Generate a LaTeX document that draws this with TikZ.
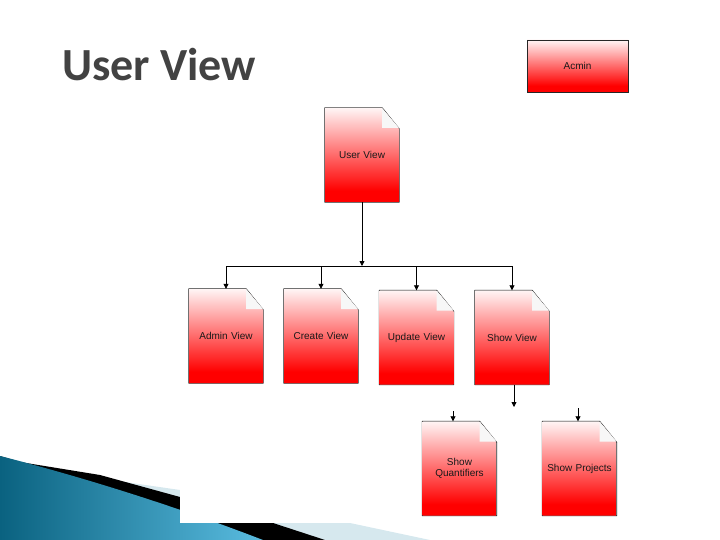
\documentclass[tikz,border=0pt]{standalone}
\usepackage{fontspec}
\setmainfont{Liberation Sans}
\newfontfamily\titlefont{Carlito}
\usetikzlibrary{arrows.meta, positioning}

\definecolor{titlegray}{RGB}{66,66,66}
\definecolor{tealdark}{RGB}{10,98,128}
\definecolor{teallight}{RGB}{90,188,224}
\definecolor{paleblue}{RGB}{214,232,238}
\pgfdeclareverticalshading{docfill}{100bp}{color(0bp)=(red); color(31bp)=(red); color(75bp)=(red!4); color(100bp)=(red!4)}

\begin{document}
\begin{tikzpicture}[
    x=1pt, y=-1pt,
    label/.style={font=\fontsize{10}{11.5}\selectfont, text=black!90},
    doc/.style={label, minimum width=74pt, minimum height=94pt, inner sep=0pt, text width=70pt, align=center,
        path picture={
            \shade[shading=docfill] (path picture bounding box.south west) -- (path picture bounding box.north west)
                -- ([xshift=-17pt]path picture bounding box.north east) -- ([yshift=-21pt]path picture bounding box.north east)
                -- (path picture bounding box.south east) -- cycle;
            \fill[gray!6] ([xshift=-17pt]path picture bounding box.north east) -- ([xshift=-17pt,yshift=-20pt]path picture bounding box.north east)
                -- ([yshift=-20pt]path picture bounding box.north east) -- cycle;
        },
        append after command={\pgfextra{
            \draw[black!85, line width=0.8pt, line join=round] (\tikzlastnode.south west) -- (\tikzlastnode.north west)
                -- ([xshift=-17pt]\tikzlastnode.north east) -- ([yshift=-21pt]\tikzlastnode.north east)
                -- (\tikzlastnode.south east) -- cycle;
            \draw[black!85, line width=0.8pt] ([xshift=-17pt]\tikzlastnode.north east) -- ([xshift=-17pt,yshift=-20pt]\tikzlastnode.north east)
                -- ([yshift=-20pt]\tikzlastnode.north east);
        }}},
    boxnode/.style={label, minimum width=101pt, minimum height=52pt, inner sep=0pt, draw=black!85, line width=0.8pt, shade, shading=docfill},
    arrow/.style={-{Triangle[length=5pt,width=5pt]}, line width=0.8pt}
]
\useasboundingbox (0,0) rectangle (720,540);

% background swoosh
\fill[paleblue] (0,456) -- (70,474) -- (180,490) -- (350,523) -- (430,540) -- (0,540) -- cycle;
\fill[black] (0,456) -- (20,462) -- (100,475) -- (180,497) -- (273,523) -- (325,540) -- (0,540) -- cycle;
\shade[left color=tealdark, right color=teallight] (0,456) .. controls (90,479) and (180,508) .. (263,540) -- (0,540) -- cycle;
\fill[white] (180,100) rectangle (640,523);

% title
\node[anchor=base west, inner sep=0pt, text=titlegray, font=\titlefont\bfseries\fontsize{46}{46}\selectfont] (title) at (62,81) {User View};

\node[boxnode] (admin) at (577.5,66) {Acmin};

\node[doc] (user) at (362,155) {User View};
\node[doc] (adminv) at (226,336) {Admin View};
\node[doc] (create) at (321,336) {Create View};
\node[doc] (update) at (416.5,337.5) {Update View};
\node[doc] (show) at (512,337.5) {Show View};
\node[doc] (quant) at (459.5,468.5) {Show\\Quantifiers};
\node[doc] (proj) at (579.5,468.5) {Show Projects};

\coordinate (bus) at (362,266);
\coordinate (showout) at (514,407);
\coordinate (quantin) at (453,411);
\coordinate (projin) at (578,408);

\draw[arrow] (user.south) -- (bus);
\draw[line width=0.8pt] (bus -| adminv.north) -- (bus -| show.north);
\draw[arrow] (bus -| adminv.north) -- (adminv.north);
\draw[arrow] (bus -| create.north) -- (create.north);
\draw[arrow] (bus -| update.north) -- (update.north);
\draw[arrow] (bus -| show.north) -- (show.north);
\draw[arrow] (show.south -| showout) -- (showout);
\draw[arrow] (quantin) -- (quantin |- quant.north);
\draw[arrow] (projin) -- (projin |- proj.north);

\end{tikzpicture}
\end{document}
